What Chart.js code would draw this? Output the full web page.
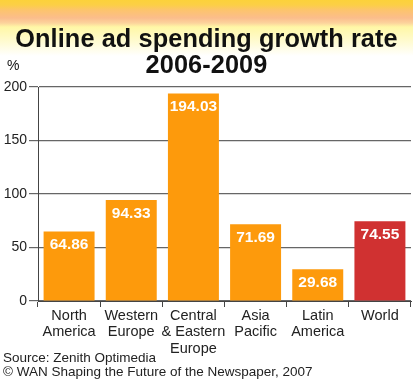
<!DOCTYPE html>
<html>
<head>
<meta charset="utf-8">
<script src="https://cdn.jsdelivr.net/npm/chart.js@4.4.0/dist/chart.umd.min.js"></script>
<style>
  html, body { margin: 0; padding: 0; background: #fff; }
  #wrap { position: relative; width: 413px; height: 383px; overflow: hidden;
    font-family: "Liberation Sans", Arial, Helvetica, sans-serif; }
  #band { position: absolute; left: 0; top: 0; width: 413px; height: 56px;
    background: linear-gradient(to bottom, #fcd23a 0px, #fccf46 5px, #fdc46c 10px, #fbbd8c 18px, #fcd39c 23px, #fff7a6 27px, #fffbd2 42px, #ffffff 56px); }
  #chart { position: absolute; left: 0; top: 0; }
  .t { position: absolute; white-space: nowrap; color: #111; }
  #title { left: 0; width: 413px; top: 25px; text-align: center; font-weight: bold; font-size: 25.3px; line-height: 26px; letter-spacing: 0.1px; }
  #pct { left: 7px; top: 57px; font-size: 14px; }
  #src { left: 3px; top: 350px; font-size: 13.5px; color: #222; }
  #copy { left: 3px; top: 364px; font-size: 13.5px; color: #222; }
</style>
</head>
<body>
<div id="wrap">
  <div id="band"></div>
  <canvas id="chart" width="413" height="383"></canvas>
  <div class="t" id="title">Online ad spending growth rate<br>2006-2009</div>
  <div class="t" id="pct">%</div>
  <div class="t" id="src">Source: Zenith Optimedia</div>
  <div class="t" id="copy">© WAN Shaping the Future of the Newspaper, 2007</div>
</div>
<script>
const categories = [
  ["North", "America"],
  ["Western", "Europe"],
  ["Central", "& Eastern", "Europe"],
  ["Asia", "Pacific"],
  ["Latin", "America"],
  ["World"]
];
const growthRates = [64.86, 94.33, 194.03, 71.69, 29.68, 74.55];
const yTicks = [0, 50, 100, 150, 200];
const highlightCategory = "World";

const ORANGE = "#fd9a0c";
const RED = "#d03131";
const barColors = categories.map(c => c.join(" ") === highlightCategory ? RED : ORANGE);

const valueLabels = {
  id: "valueLabels",
  afterDatasetsDraw(chart) {
    const ctx = chart.ctx;
    const meta = chart.getDatasetMeta(0);
    ctx.save();
    ctx.fillStyle = "#ffffff";
    ctx.font = "bold 15.5px 'Liberation Sans', Arial, sans-serif";
    ctx.textAlign = "center";
    ctx.textBaseline = "middle";
    meta.data.forEach((bar, i) => {
      ctx.fillText(growthRates[i].toFixed(2), bar.x, bar.y + 13.5);
    });
    ctx.restore();
  }
};

new Chart(document.getElementById("chart"), {
  type: "bar",
  data: {
    labels: categories,
    datasets: [{
      data: growthRates,
      backgroundColor: barColors,
      borderWidth: 0,
      categoryPercentage: 1.0,
      barPercentage: 0.82
    }]
  },
  options: {
    responsive: false,
    animation: false,
    devicePixelRatio: 1,
    layout: { padding: { top: 87, right: 2, bottom: 0, left: 0 } },
    plugins: { legend: { display: false }, tooltip: { enabled: false }, title: { display: false } },
    scales: {
      y: {
        min: 0, max: 200,
        afterBuildTicks: s => { s.ticks = yTicks.map(v => ({ value: v })); },
        afterFit: s => { s.width = 38; },
        ticks: { color: "#222", font: { family: "'Liberation Sans', Arial, sans-serif", size: 14 }, padding: 2 },
        grid: { color: "#666666", lineWidth: 1.2, tickLength: 9, drawTicks: true },
        border: { display: true, color: "#444", width: 1 }
      },
      x: {
        afterFit: s => { s.height = 82; },
        ticks: { color: "#222", font: { family: "'Liberation Sans', Arial, sans-serif", size: 14.5, lineHeight: 1.12 }, padding: 1, maxRotation: 0, autoSkip: false },
        grid: { display: true, drawOnChartArea: false, drawTicks: true, tickLength: 6, color: "#444", offset: true },
        border: { display: true, color: "#444", width: 1 }
      }
    }
  },
  plugins: [valueLabels]
});
</script>
</body>
</html>
